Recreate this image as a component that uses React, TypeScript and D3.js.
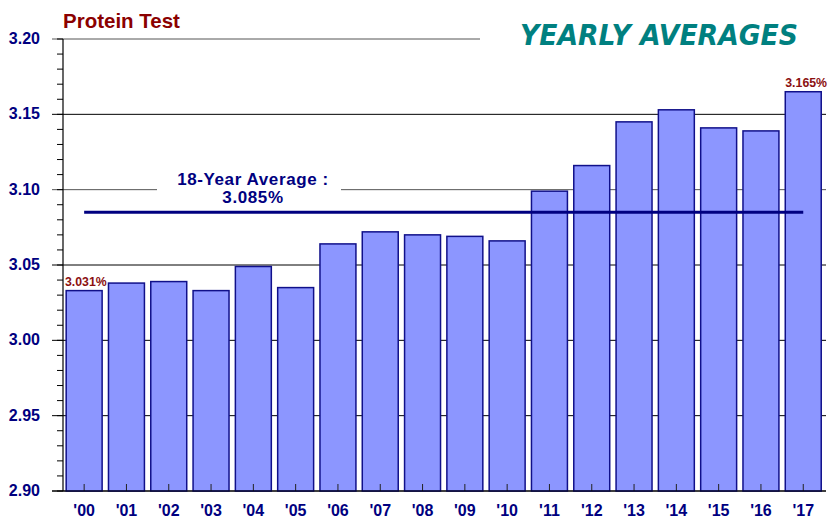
import React from "react";
import * as d3 from "d3";

const years = ["'00","'01","'02","'03","'04","'05","'06","'07","'08","'09","'10","'11","'12","'13","'14","'15","'16","'17"];
const values = [3.033,3.038,3.039,3.033,3.049,3.035,3.064,3.072,3.070,3.069,3.066,3.099,3.116,3.145,3.153,3.141,3.139,3.165];
const yTicks = [2.90,2.95,3.00,3.05,3.10,3.15,3.20];
const minorTicks = d3.range(290, 321).map((v) => v / 100);
const average = 3.085;
const firstLabel = "3.031%";
const lastLabel = "3.165%";

const W = 828, H = 519;
const left = 63, right = 824.4, top = 39, bottom = 491;

export default function App() {
  const x = d3.scaleBand<string>().domain(years).range([left, right]).paddingInner(0.15).paddingOuter(0.075);
  const y = d3.scaleLinear().domain([2.9, 3.2]).range([bottom, top]);
  const bw = x.bandwidth();
  const cx = (d: string) => (x(d) as number) + bw / 2;
  const navy = "#000080";
  const red = "#8B1010";
  return (
    <svg width={W} height={H} style={{ position: "absolute", left: 0, top: 0 }} fontFamily="Liberation Sans, Arial, sans-serif">
      <rect width={W} height={H} fill="#fff" />
      {yTicks.map((t) => (
        <line key={t} x1={52} x2={t === 3.2 ? 480 : 826} y1={y(t)} y2={y(t)}
          stroke={t === 3.1 || t === 3.2 ? "#555" : "#000"} strokeWidth={1} />
      ))}
      <rect x={157} y={170} width={184} height={40} fill="#fff" />
      {minorTicks.map((t) => (
        <line key={t} x1={57} x2={63} y1={y(t)} y2={y(t)} stroke="#000" strokeWidth={1} />
      ))}
      {years.map((d, i) => (
        <rect key={d} x={x(d)} y={y(values[i])} width={bw} height={bottom - y(values[i])}
          fill="#8C96FF" stroke="#10108A" strokeWidth={1.5} />
      ))}
      {years.map((d) => (
        <line key={d} x1={cx(d)} x2={cx(d)} y1={bottom} y2={bottom - 7} stroke="#222" strokeWidth={1} />
      ))}
      <line x1={left} x2={left} y1={top} y2={bottom} stroke="#000" strokeWidth={1.2} />
      <line x1={52} x2={826} y1={bottom} y2={bottom} stroke="#000" strokeWidth={1.2} />
      <line x1={cx(years[0])} x2={cx(years[years.length - 1])} y1={y(average)} y2={y(average)} stroke={navy} strokeWidth={3} />
      {yTicks.map((t) => (
        <text key={t} x={40} y={y(t) + 5} textAnchor="end" fontWeight="bold" fontSize={16} fill={navy}>{t.toFixed(2)}</text>
      ))}
      {years.map((d) => (
        <text key={d} x={cx(d)} y={516} textAnchor="middle" fontWeight="bold" fontSize={16} fill={navy}>{d}</text>
      ))}
      <text x={253} y={185} textAnchor="middle" fontWeight="bold" fontSize={17} letterSpacing={0.6} fill={navy}>18-Year Average :</text>
      <text x={253} y={203} textAnchor="middle" fontWeight="bold" fontSize={17} letterSpacing={0.6} fill={navy}>{average.toFixed(3)}%</text>
      <text x={65} y={286} fontWeight="bold" fontSize={12.3} fill={red}>{firstLabel}</text>
      <text x={827} y={87} textAnchor="end" fontWeight="bold" fontSize={12.3} fill={red}>{lastLabel}</text>
      <text x={63} y={28} fontWeight="bold" fontSize={20.5} fill="#8B0000">Protein Test</text>
      <text x={520} y={45} fontWeight="bold" fontStyle="italic" fontSize={29} fill="#008080"
        fontFamily="DejaVu Sans, sans-serif" textLength={278} lengthAdjust="spacingAndGlyphs">YEARLY  AVERAGES</text>
    </svg>
  );
}
